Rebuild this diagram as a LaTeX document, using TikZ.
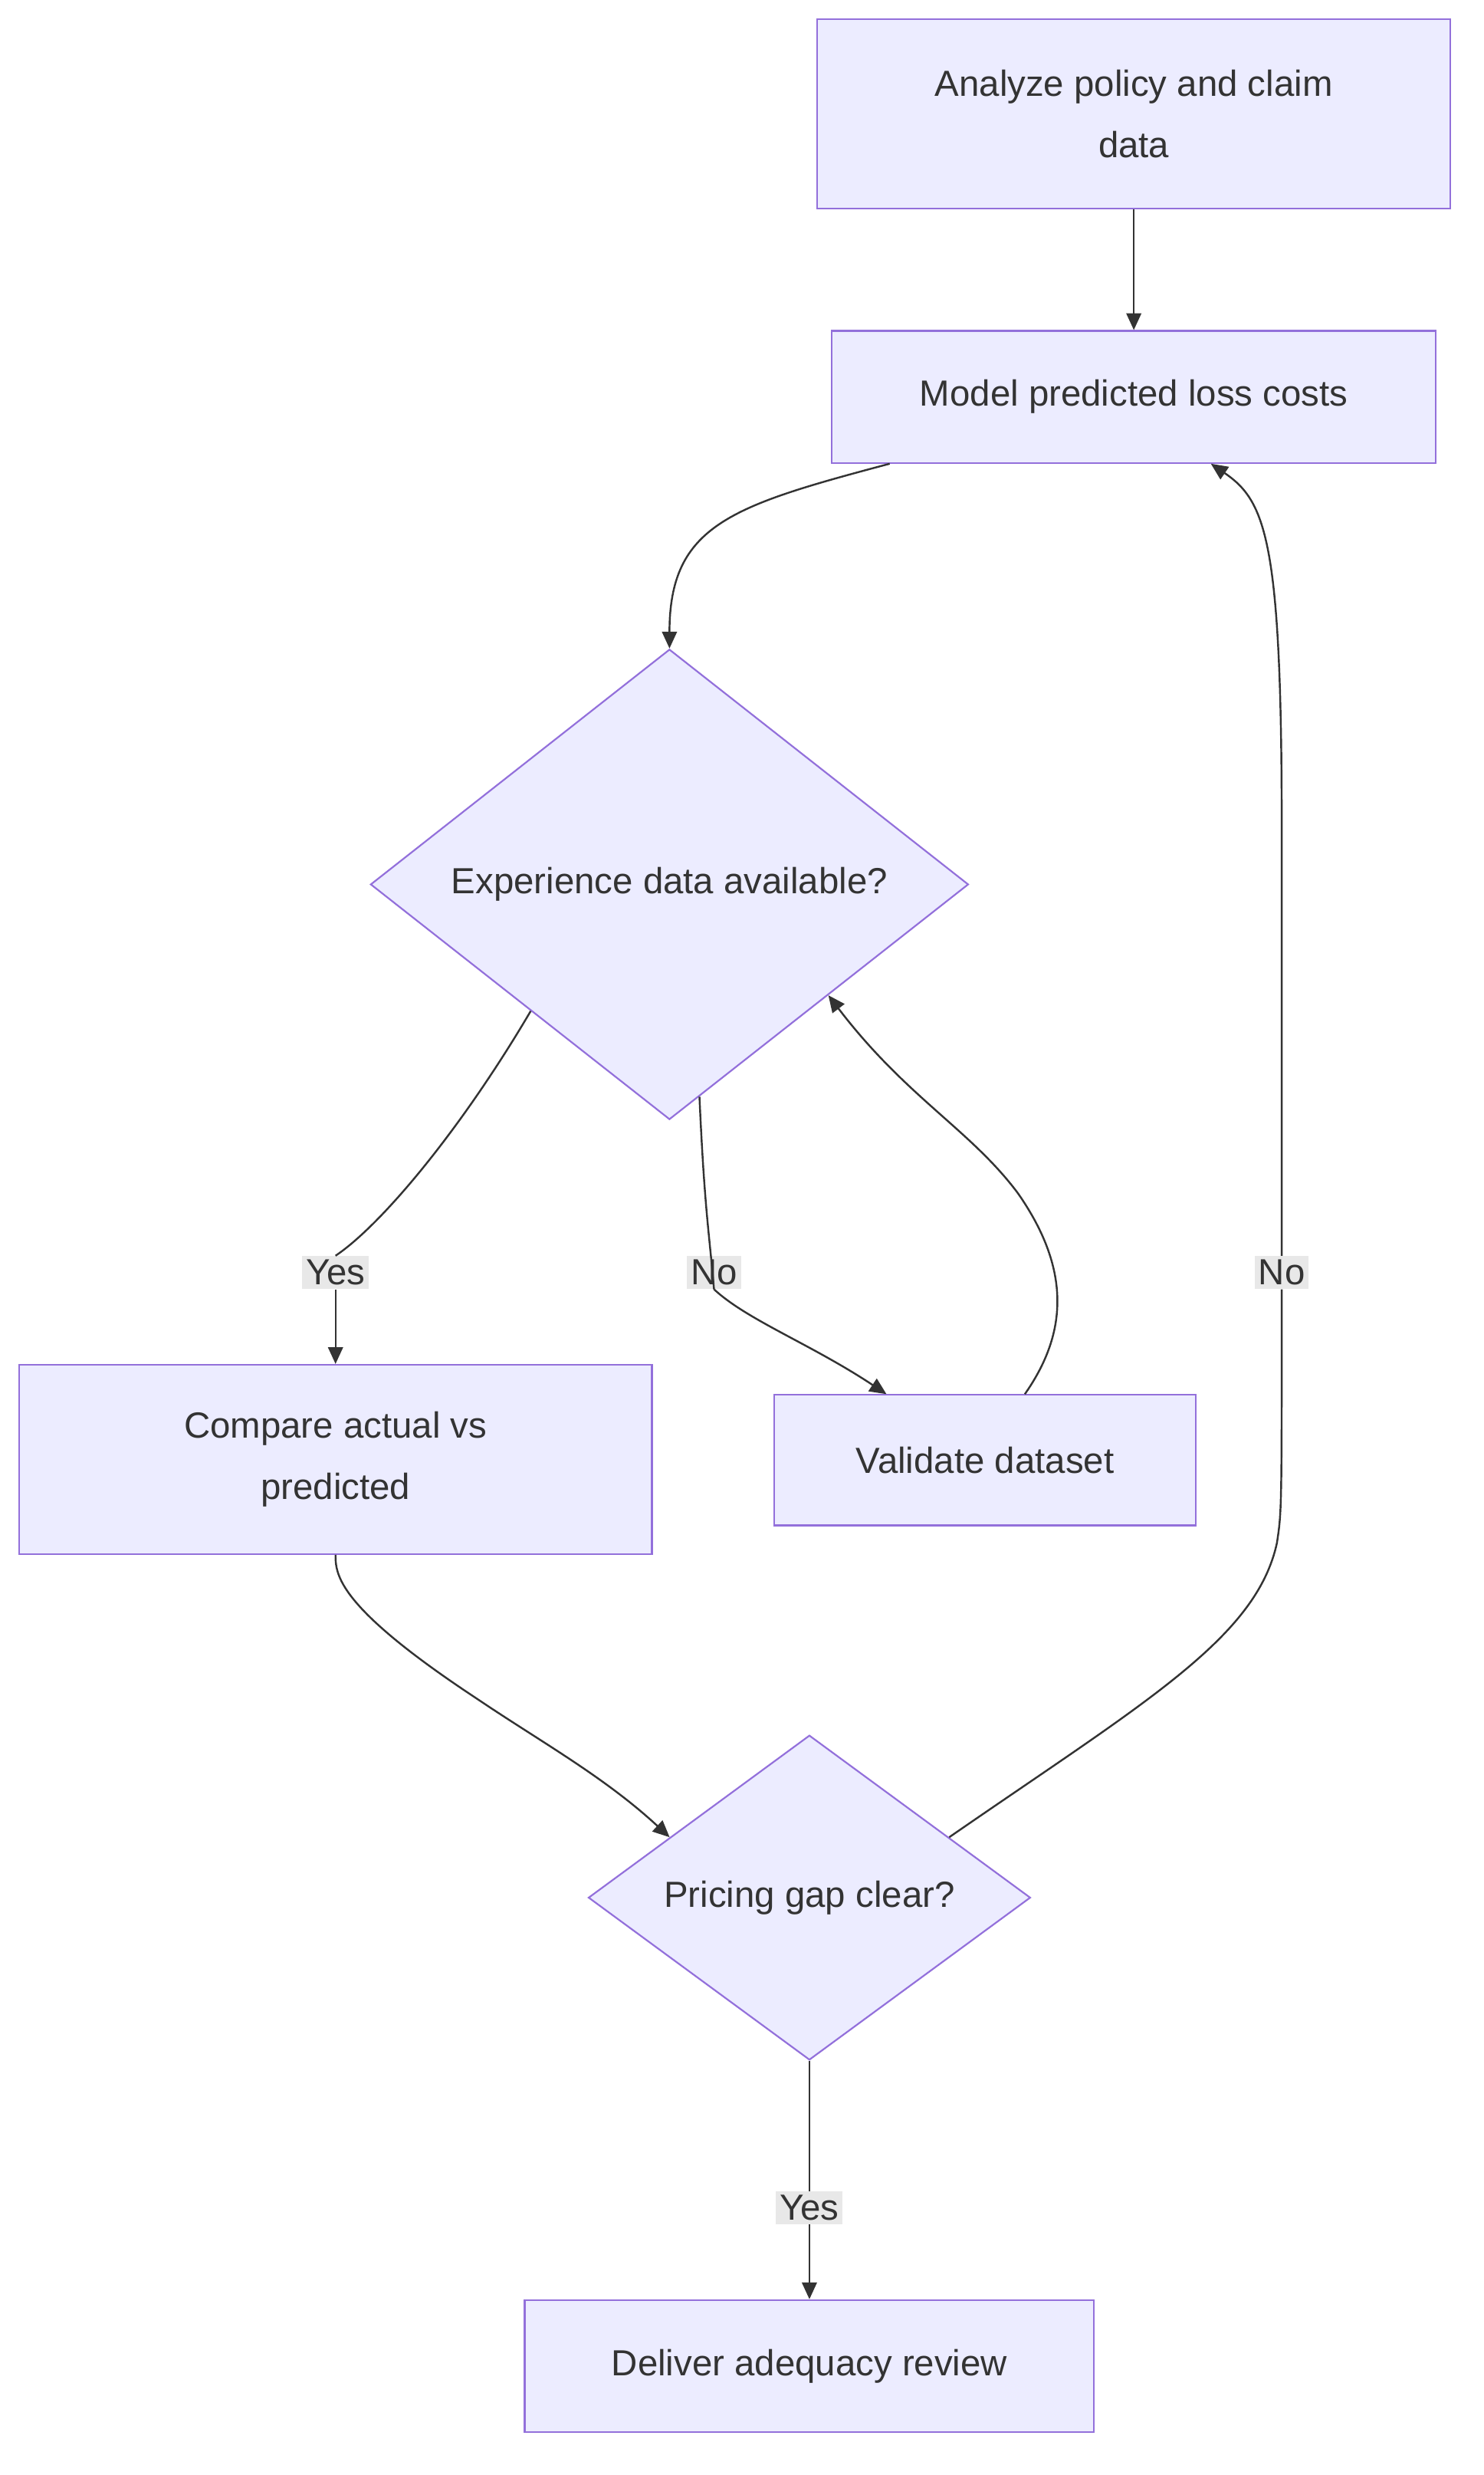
\documentclass[tikz,border=0pt]{standalone}
\usepackage{fontspec}
\setmainfont{Liberation Sans}
\usetikzlibrary{calc}
\usetikzlibrary{arrows.meta}
\usetikzlibrary{shapes.geometric}
\definecolor{boxfill}{HTML}{ECECFF}
\definecolor{boxline}{HTML}{9370DB}
\definecolor{edgeline}{HTML}{333333}
\definecolor{labelfill}{HTML}{E8E8E8}
\tikzset{
	procbox/.style = {draw=boxline, fill=boxfill, line width=0.9pt, align=center, text=edgeline, inner sep=0pt},
	choice/.style = {procbox, diamond, aspect=1},
	flow/.style = {draw=edgeline, line width=1pt, arrows={-Triangle[length=9pt,width=8pt]}},
	plain/.style = {draw=edgeline, line width=1pt},
	tag/.style = {fill=labelfill, text=edgeline, inner sep=2pt}
}
\begin{document}
\begin{tikzpicture}[x=0.03cm, y=-0.03cm, font=\fontsize{19.5}{33}\selectfont]
	\useasboundingbox (0,0) rectangle (933,1556);

	% steps
	\node [procbox, minimum width=11.94cm, minimum height=3.57cm] (analyze) at (713,71.5) {Analyze policy and claim\\data};
	\node [procbox, minimum width=11.4cm, minimum height=2.49cm] (model) at (713,249.5) {Model predicted loss costs};
	\node [choice, minimum width=11.28cm] (experience) at (421,556) {Experience data available?};
	\node [procbox, minimum width=11.94cm, minimum height=3.57cm] (compare) at (211,917.5) {Compare actual vs\\predicted};
	\node [procbox, minimum width=7.95cm, minimum height=2.46cm] (validate) at (619.5,918) {Validate dataset};
	\node [choice, minimum width=8.34cm] (pricing) at (509,1193) {Pricing gap clear?};
	\node [procbox, minimum width=10.74cm, minimum height=2.49cm] (deliver) at (509,1487.5) {Deliver adequacy review};

	% edge labels
	\node [tag] (yesA) at (211,800) {Yes};
	\node [tag] (noA) at (449,800) {No};
	\node [tag] (noB) at (806,800) {No};
	\node [tag] (yesB) at (509,1388) {Yes};

	% connectors
	\draw [flow] (analyze) -- (model);
	\draw [flow] ($(model.south west)+(37,0)$) .. controls (460,318) and (421,330) .. (experience.north);
	\draw [plain] ($(experience.west)!0.537!(experience.south)$) .. controls (290,710) and (240,770) .. (yesA.north);
	\draw [flow] (yesA.south) .. controls (211,830) .. (compare.north);
	\draw [plain] ($(experience.south)!0.1!(experience.east)$) .. controls (443,760) and (446,775) .. (noA.south);
	\draw [flow] (noA.south) .. controls (470,830) and (510,845) .. ($(validate.north west)+(71,0)$);
	\draw [flow] ($(validate.north west)+(158,0)$) .. controls (670,840) and (675,800) .. (640,750) .. controls (610,710) and (570,690) .. ($(experience.south)!0.53!(experience.east)$);
	\draw [flow] (compare.south) .. controls (211,990) and (212,1010) .. (300,1068) .. controls (340,1095) and (380,1117) .. ($(pricing.north)!0.63!(pricing.west)$);
	\draw [plain] ($(pricing.north)!0.63!(pricing.east)$) .. controls (720,1070) and (790,1030) .. (803,970) .. controls (806,950) .. (noB.south);
	\draw [flow] (noB.north) -- (806,520) .. controls (806,340) and (796,315) .. ($(model.south west)+(239,0)$);
	\draw [plain] (pricing.south) -- (yesB.north);
	\draw [flow] (yesB.south) -- (deliver.north);
\end{tikzpicture}
\end{document}
